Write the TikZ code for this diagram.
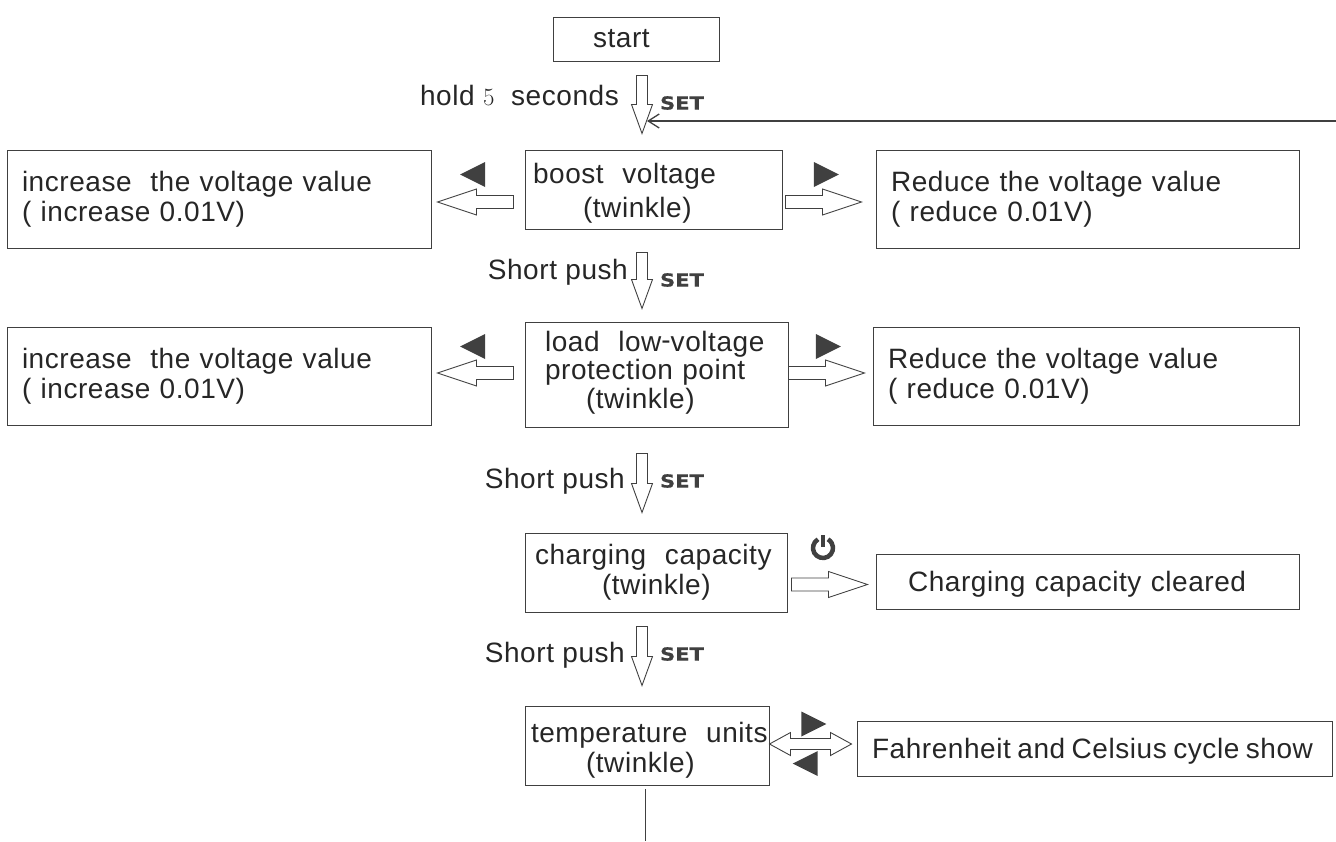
\documentclass[tikz,border=0pt]{standalone}
\usepackage{fontspec}
\usepackage{tikz}
\usetikzlibrary{arrows.meta,shapes.geometric,calc}
\setmainfont[LetterSpace=2]{Liberation Sans}
\newfontfamily\setfont[FakeStretch=1.17,FakeBold=0.5]{DejaVu Sans Bold}
\definecolor{inkgray}{HTML}{404040}
\newcommand{\topgap}[1]{\rule{0pt}{#1}}
\newcommand{\lowgap}[1]{\rule[-#1]{0pt}{#1}}

\begin{document}
\begin{tikzpicture}[
        x=1pt, y=-1pt,
        box/.style={draw=inkgray, line width=1pt, text=black!85, align=left, inner sep=0pt,
            font=\fontsize{28}{30}\selectfont},
        label/.style={text=black!85, inner sep=0pt, font=\fontsize{28}{30}\selectfont},
        setlabel/.style={text=inkgray, inner sep=0pt, font=\setfont\fontsize{18}{18}\selectfont},
        tri/.style={isosceles triangle, isosceles triangle stretches, fill=inkgray,
            inner sep=0pt, minimum width=25pt, minimum height=25pt},
        blockarrow/.style n args={3}{draw=inkgray, line width=.9pt, to path={
            ($(\tikztostart)!#1!90:(\tikztotarget)$)
            -- ($($(\tikztotarget)!#3!(\tikztostart)$)!#1!90:(\tikztotarget)$)
            -- ($($(\tikztotarget)!#3!(\tikztostart)$)!#2!90:(\tikztotarget)$)
            -- (\tikztotarget)
            -- ($($(\tikztotarget)!#3!(\tikztostart)$)!#2!-90:(\tikztotarget)$)
            -- ($($(\tikztotarget)!#3!(\tikztostart)$)!#1!-90:(\tikztotarget)$)
            -- ($(\tikztostart)!#1!-90:(\tikztotarget)$)
            -- cycle}},
        downarrow/.style={blockarrow={5.5pt}{10.5pt}{29pt}},
        sidearrow/.style={blockarrow={6.5pt}{13pt}{39pt}},
        bothways/.style={draw=inkgray, line width=.9pt, to path={
            (\tikztostart)
            -- ($($(\tikztostart)!21pt!(\tikztotarget)$)!11.5pt!90:(\tikztotarget)$)
            -- ($($(\tikztostart)!21pt!(\tikztotarget)$)!5.5pt!90:(\tikztotarget)$)
            -- ($($(\tikztotarget)!21pt!(\tikztostart)$)!5.5pt!-90:(\tikztostart)$)
            -- ($($(\tikztotarget)!21pt!(\tikztostart)$)!11.5pt!-90:(\tikztostart)$)
            -- (\tikztotarget)
            -- ($($(\tikztotarget)!21pt!(\tikztostart)$)!11.5pt!90:(\tikztostart)$)
            -- ($($(\tikztotarget)!21pt!(\tikztostart)$)!5.5pt!90:(\tikztostart)$)
            -- ($($(\tikztostart)!21pt!(\tikztotarget)$)!5.5pt!-90:(\tikztotarget)$)
            -- ($($(\tikztostart)!21pt!(\tikztotarget)$)!11.5pt!-90:(\tikztotarget)$)
            -- cycle}}
    ]
    \useasboundingbox (0,0) rectangle (1336,841);

    % Nodes
    \node (start)[box, text width=166pt, minimum height=44pt] at (636,39) {\hspace*{40pt}start};

    \node (boost)[box, text width=257pt, minimum height=79pt] at (653.5,189.5)
        {\topgap{27pt}\hspace*{8pt}boost\ \ voltage \\[4pt] \hspace*{58pt}(twinkle)};
    \node (boostinc)[box, text width=424pt, minimum height=98pt] at (219,199)
        {\hspace*{15pt}increase\ \ the voltage value \\ \hspace*{15pt}( increase 0.01V)};
    \node (boostred)[box, text width=423pt, minimum height=98pt] at (1087.5,199)
        {\hspace*{15pt}Reduce the voltage value \\ \hspace*{15pt}( reduce 0.01V)};

    \node (load)[box, text width=263pt, minimum height=105pt] at (656.5,374.5)
        {\hspace*{20pt}load\ \ low\raisebox{2pt}{-}voltage \\[-2pt] \hspace*{20pt}protection point \\[-1pt] \hspace*{61pt}(twinkle)\lowgap{9pt}};
    \node (loadinc)[box, text width=424pt, minimum height=98pt] at (219,376.5)
        {\hspace*{15pt}increase\ \ the voltage value \\ \hspace*{15pt}( increase 0.01V)};
    \node (loadred)[box, text width=426pt, minimum height=98pt] at (1086,376.5)
        {\hspace*{15pt}Reduce the voltage value \\ \hspace*{15pt}( reduce 0.01V)};

    \node (charging)[box, text width=262pt, minimum height=79pt] at (656,572.5)
        {\hspace*{10pt}charging\ \ capacity \\ \hspace*{77pt}(twinkle)};
    \node (cleared)[box, text width=423pt, minimum height=55pt] at (1087.5,581.5)
        {\topgap{25pt}\hspace*{32pt}Charging capacity cleared};

    \node (temp)[box, text width=244pt, minimum height=79pt] at (647,745.5)
        {\topgap{29pt}\hspace*{6pt}temperature\ \ units \\ \hspace*{61pt}(twinkle)};
    \node (cycle)[box, text width=475pt, minimum height=55pt] at (1094.5,748.5)
        {\spaceskip=6.5pt\relax\topgap{25pt}\hspace*{15pt}Fahrenheit and Celsius cycle show};

    \node (hold)[label, anchor=base east] at (619,105) {hold $5$\ \ seconds};
    \node (push1)[label, anchor=base east] at (628,279) {Short push};
    \node (push2)[label, anchor=base east] at (625,488) {Short push};
    \node (push3)[label, anchor=base east] at (625,662) {Short push};
    \node (set1)[setlabel] at (682,103) {SET};
    \node (set2)[setlabel] at (682,280) {SET};
    \node (set3)[setlabel] at (682,481) {SET};
    \node (set4)[setlabel] at (682,654) {SET};

    \node (leftone)[tri, shape border rotate=180] at (477.5,174.5) {};
    \node (rightone)[tri] at (821.5,174.5) {};
    \node (lefttwo)[tri, shape border rotate=180] at (477.5,346.5) {};
    \node (righttwo)[tri] at (823.5,346.5) {};
    \node (rightthree)[tri] at (809,724) {};
    \node (leftthree)[tri, shape border rotate=180] at (810,763.5) {};

    \coordinate (backfrom) at (1336,121);
    \coordinate (backto) at (647,121);
    \coordinate (tailtop) at (645,789);
    \coordinate (tailend) at (645,841);

    % power sign
    \draw[line width=4.5pt, draw=inkgray] (818,539.3) arc[start angle=120, end angle=420, radius=10pt];
    \draw[line width=4.5pt, draw=inkgray] (823,535) -- (823,547);

    % Edges
    \draw[downarrow] ([shift={(6,14)}]start.south) to ([shift={(-11.5,-16)}]boost.north);
    \draw[downarrow] ([shift={(-11.5,23)}]boost.south) to ([shift={(-14.5,-13)}]load.north);
    \draw[downarrow] ([shift={(-14.5,26)}]load.south) to ([shift={(-14,-20)}]charging.north);
    \draw[downarrow] ([shift={(-14,14)}]charging.south) to ([shift={(-5,-20)}]temp.north);

    \draw[sidearrow] ([shift={(-11,12.5)}]boost.west) to ([shift={(6,3)}]boostinc.east);
    \draw[sidearrow] ([shift={(3,12.5)}]boost.east) to ([shift={(-14,3)}]boostred.west);
    \draw[sidearrow] ([shift={(-11,-1.5)}]load.west) to ([shift={(6,-3.5)}]loadinc.east);
    \draw[sidearrow] (load.east |- 0,373) to ([shift={(-8,-3.5)}]loadred.west);
    \draw[sidearrow] ([shift={(4,12)}]charging.east) to ([shift={(-8,3)}]cleared.west);
    \draw[bothways] ([shift={(0,-1.5)}]temp.east) to ([shift={(-5,-4.5)}]cycle.west);

    \draw[-{Straight Barb[length=11pt,width=14pt]}, draw=inkgray, line width=1.3pt] (backfrom) -- (backto);
    \draw[draw=inkgray, line width=1pt] (tailtop) -- (tailend);

\end{tikzpicture}
\end{document}
